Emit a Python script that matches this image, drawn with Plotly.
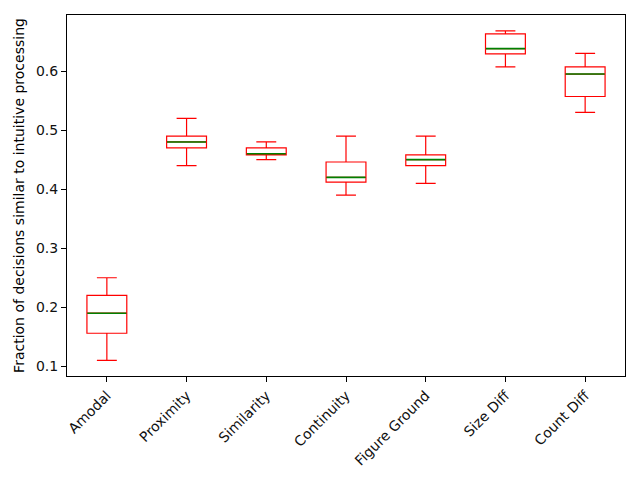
import plotly.graph_objects as go

categories = ["Amodal", "Proximity", "Similarity", "Continuity", "Figure Ground", "Size Diff", "Count Diff"]
lower = [0.11, 0.44, 0.45, 0.39, 0.41, 0.607, 0.53]
q1 = [0.156, 0.47, 0.458, 0.412, 0.44, 0.629, 0.557]
median = [0.19, 0.48, 0.46, 0.42, 0.45, 0.638, 0.595]
q3 = [0.22, 0.49, 0.47, 0.446, 0.458, 0.663, 0.607]
upper = [0.25, 0.52, 0.48, 0.49, 0.49, 0.668, 0.63]

fig = go.Figure()
fig.add_trace(go.Box(
    x=categories, q1=q1, median=median, q3=q3, lowerfence=lower, upperfence=upper,
    line=dict(color="red", width=1.2), fillcolor="rgba(0,0,0,0)",
    whiskerwidth=0.5, width=0.5, boxpoints=False, hoverinfo="skip", showlegend=False,
))
fig.add_trace(go.Box(
    x=categories, q1=median, median=median, q3=median, lowerfence=median, upperfence=median,
    line=dict(color="green", width=1.6), fillcolor="rgba(0,0,0,0)",
    whiskerwidth=0, width=0.49, boxpoints=False, hoverinfo="skip", showlegend=False,
))

axis_common = dict(showline=True, linecolor="black", linewidth=1, mirror=True,
                   ticks="outside", ticklen=5, tickcolor="black", showgrid=False,
                   zeroline=False, automargin=False, tickfont=dict(size=14, color="#111"))
fig.update_layout(
    width=640, height=480,
    margin=dict(l=59, r=23, t=7, b=112),
    paper_bgcolor="white", plot_bgcolor="white",
    font=dict(family="DejaVu Sans", size=14, color="black"),
    boxmode="overlay",
    xaxis=dict(**axis_common, tickangle=-45, range=[-0.5, 6.5],
               categoryorder="array", categoryarray=categories),
    yaxis=dict(**axis_common, range=[0.0836, 0.695], tickvals=[0.1, 0.2, 0.3, 0.4, 0.5, 0.6],
               ticktext=["0.1", "0.2", "0.3", "0.4", "0.5", "0.6"],
               title=dict(text="Fraction of decisions similar to intuitive processing",
                          font=dict(size=14), standoff=8)),
)
fig.write_html("out.html")
